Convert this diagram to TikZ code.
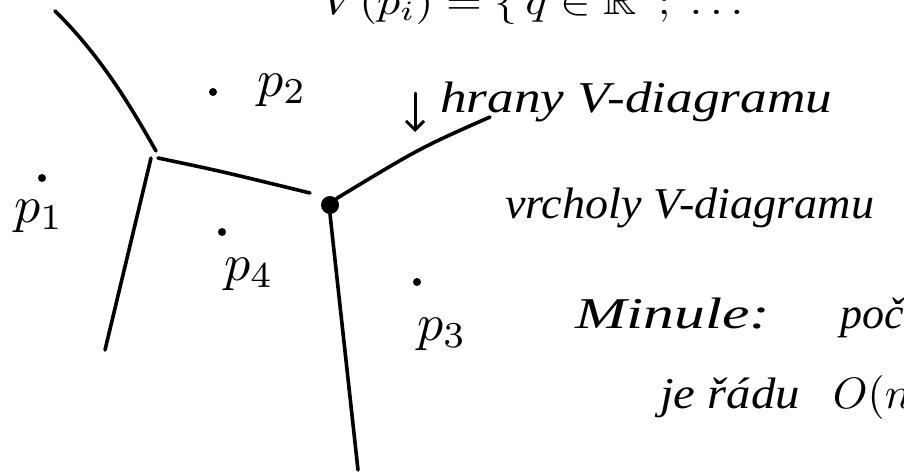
\documentclass[tikz,border=0pt]{standalone}
\usepackage{amssymb}
\usepackage{fontspec}
\setmainfont{Liberation Serif}
\usetikzlibrary{arrows.meta}
\begin{document}
\begin{tikzpicture}[x=1pt,y=-1pt, line cap=round, line join=round,
  edge/.style={line width=3.6pt},
  site/.style={circle,fill,inner sep=0pt,minimum size=8pt},
  lab/.style={inner sep=0pt, anchor=base west},
  note/.style={font=\fontsize{44}{50}\selectfont\itshape, inner sep=0pt, anchor=base west}]
\useasboundingbox (0,0) rectangle (904,472);
\clip (0,0) rectangle (904,472);
% Voronoi vertices and edge ends
\coordinate (ctop) at (55,11);
\coordinate (cend) at (156,151);
\coordinate (va1) at (151,158);
\coordinate (va2) at (158,158);
\coordinate (lbot) at (105,350);
\coordinate (mend) at (310,193);
\node[circle,fill,inner sep=0pt,minimum size=18pt] (vb) at (330,205) {};
\coordinate (bot) at (358,470);
\coordinate (rend) at (490,117);
\draw[edge] (ctop) .. controls (100,55) and (130,105) .. (cend);
\draw[edge] (va1) -- (lbot);
\draw[edge] (va2) .. controls (220,171) .. (mend);
\draw[edge] (vb.south) -- (bot);
\draw[edge] (vb.north east) .. controls (420,148) .. (rend);
% sites
\node[site] (s1) at (42,178) {};
\node[site] (s2) at (213,92) {};
\node[site] (s4) at (222,232) {};
\node[site] (s3) at (417,282) {};
\node[lab] (l1) at (14,222) {\scalebox{5.2}{$p_1$}};
\node[lab] (l2) at (257,96) {\scalebox{5.2}{$p_2$}};
\node[lab] (l4) at (224,280) {\scalebox{5.2}{$p_4$}};
\node[lab] (l3) at (417,340) {\scalebox{5.2}{$p_3$}};
% arrow
\coordinate (atop) at (415,93);
\coordinate (abot) at (415,132);
\draw[line width=3pt, -{Straight Barb[length=9pt,width=18pt]}] (atop) -- (abot);
% texts
\node[note] (t1) at (440,112) {\scalebox{1.21}[1]{hrany V-diagramu}};
\node[note] (t2) at (505,218) {\scalebox{1.05}[1]{vrcholy V-diagramu}};
\node[note] (t3) at (575,328) {\scalebox{1.4}[1]{Minule:}\hspace{70pt}počítání};
\node[note] (t4) at (660,408) {\scalebox{1.11}[1]{je řádu}\hspace{33pt}{\normalsize\scalebox{4.4}{$O(n\log n)$}}};
\node[inner sep=0pt, anchor=base west] (t0) at (322,14) {\scalebox{4.6}[4]{$V(p_i) = \{\, q \in \mathbb{R}^2 ;\ \dots$}};
\end{tikzpicture}
\end{document}
